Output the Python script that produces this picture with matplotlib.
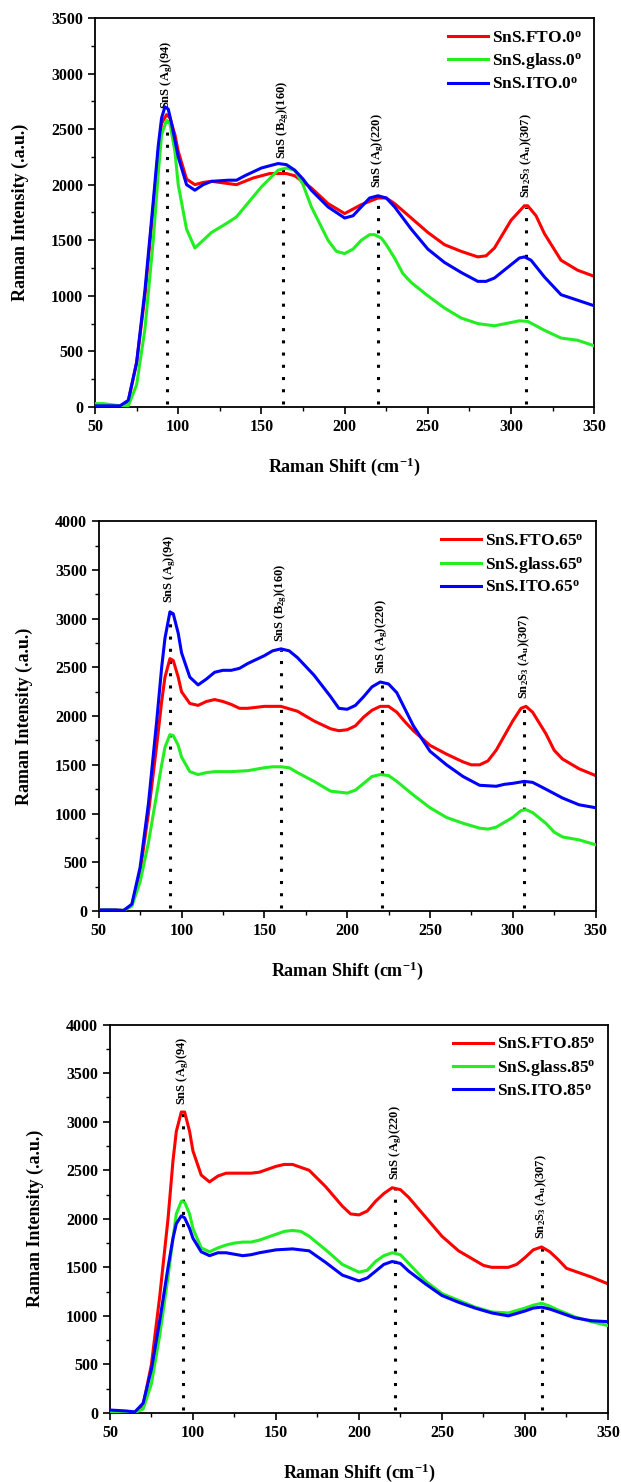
import matplotlib
matplotlib.use("Agg")
import matplotlib.pyplot as plt
from matplotlib.ticker import MultipleLocator

plt.rcParams['font.family'] = 'Liberation Serif'
plt.rcParams['font.weight'] = 'bold'
plt.rcParams['mathtext.fontset'] = 'custom'
plt.rcParams['mathtext.rm'] = 'Liberation Serif:bold'
plt.rcParams['mathtext.it'] = 'Liberation Serif:bold'
plt.rcParams['mathtext.bf'] = 'Liberation Serif:bold'

# ---- 0 degree ----
fto_0_x = [50, 60, 65, 70, 75, 80, 85, 88, 90, 93, 95, 98, 100, 105, 110, 115, 120, 125, 135, 145,
           155, 160, 165, 170, 180, 190, 200, 210, 220, 225, 230, 240, 250, 260, 270, 280, 285, 290,
           300, 308, 310, 315, 320, 330, 340, 350]
fto_0_y = [10, 10, 5, 50, 400, 1000, 1800, 2300, 2550, 2630, 2600, 2450, 2300, 2050, 2000, 2020, 2030,
           2020, 2000, 2060, 2100, 2100, 2100, 2080, 1970, 1830, 1740, 1820, 1880, 1880, 1830, 1700,
           1570, 1460, 1400, 1350, 1360, 1430, 1680, 1810, 1810, 1720, 1560, 1320, 1230, 1175]
glass_0_x = [50, 55, 60, 65, 70, 75, 80, 85, 88, 90, 93, 95, 98, 100, 105, 110, 115, 120, 130, 135,
             140, 150, 160, 165, 170, 175, 180, 190, 195, 200, 205, 210, 215, 218, 222, 225, 230, 235,
             240, 250, 260, 270, 280, 290, 300, 305, 310, 320, 330, 340, 350]
glass_0_y = [30, 30, 20, 10, 10, 200, 700, 1500, 2100, 2450, 2580, 2550, 2300, 2000, 1600, 1430, 1500,
             1570, 1660, 1710, 1800, 1980, 2130, 2150, 2130, 2000, 1800, 1500, 1400, 1380, 1420, 1500,
             1550, 1550, 1520, 1460, 1340, 1200, 1120, 1000, 890, 800, 750, 730, 760, 775, 770, 690,
             620, 600, 550]
ito_0_x = [50, 60, 65, 70, 75, 80, 85, 88, 90, 92, 94, 96, 100, 105, 110, 115, 120, 130, 135, 140,
           150, 160, 165, 170, 175, 180, 190, 200, 205, 210, 215, 220, 225, 230, 240, 250, 260, 270,
           280, 285, 290, 300, 305, 308, 312, 320, 330, 340, 350]
ito_0_y = [10, 10, 10, 60, 400, 1050, 1850, 2350, 2600, 2700, 2680, 2550, 2250, 2000, 1950, 2000, 2030,
           2040, 2040, 2080, 2150, 2190, 2180, 2130, 2050, 1950, 1800, 1700, 1720, 1800, 1880, 1900,
           1880, 1800, 1600, 1420, 1300, 1210, 1130, 1130, 1160, 1280, 1340, 1350, 1320, 1170, 1010,
           960, 910]

# ---- 65 degree ----
fto_65_x = [50, 60, 65, 70, 75, 80, 85, 88, 90, 93, 95, 98, 100, 105, 110, 115, 120, 125, 130, 135,
            140, 150, 160, 170, 180, 190, 195, 200, 205, 210, 215, 220, 225, 230, 235, 240, 250, 260,
            270, 275, 280, 285, 290, 300, 305, 308, 312, 320, 325, 330, 340, 350]
fto_65_y = [10, 10, 5, 60, 400, 1000, 1700, 2150, 2400, 2590, 2570, 2400, 2250, 2130, 2110, 2150, 2170,
            2150, 2120, 2080, 2080, 2100, 2100, 2050, 1950, 1870, 1850, 1860, 1900, 1990, 2060, 2100,
            2100, 2040, 1940, 1850, 1700, 1610, 1530, 1500, 1500, 1540, 1650, 1950, 2080, 2100, 2040,
            1820, 1650, 1560, 1460, 1390]
glass_65_x = [50, 60, 65, 70, 75, 80, 85, 88, 90, 93, 95, 98, 100, 105, 110, 115, 120, 130, 140, 150,
              155, 160, 165, 170, 180, 190, 200, 205, 210, 215, 220, 225, 230, 240, 250, 260, 270, 280,
              285, 290, 300, 305, 308, 312, 320, 325, 330, 340, 350]
glass_65_y = [10, 10, 5, 50, 300, 700, 1200, 1500, 1680, 1810, 1800, 1700, 1580, 1430, 1400, 1420, 1430,
              1430, 1440, 1470, 1480, 1480, 1470, 1420, 1330, 1230, 1210, 1240, 1310, 1380, 1400, 1390,
              1330, 1190, 1060, 960, 900, 850, 840, 860, 960, 1030, 1040, 1010, 900, 810, 760, 730, 680]
ito_65_x = [50, 60, 65, 70, 75, 80, 85, 88, 90, 93, 95, 98, 100, 105, 110, 115, 120, 125, 130, 135,
            140, 150, 155, 160, 165, 170, 180, 190, 195, 200, 205, 210, 215, 220, 225, 230, 240, 250,
            260, 270, 280, 290, 295, 300, 307, 312, 320, 330, 340, 350]
ito_65_y = [10, 10, 5, 70, 450, 1100, 1950, 2500, 2800, 3070, 3050, 2850, 2650, 2400, 2320, 2380, 2450,
            2470, 2470, 2490, 2540, 2620, 2670, 2690, 2670, 2600, 2420, 2200, 2080, 2070, 2110, 2200,
            2300, 2350, 2330, 2240, 1900, 1640, 1500, 1380, 1290, 1280, 1300, 1310, 1330, 1320, 1250,
            1160, 1090, 1060]

# ---- 85 degree ----
fto_85_x = [50, 60, 65, 70, 75, 80, 85, 88, 90, 93, 95, 98, 100, 105, 110, 115, 120, 130, 135, 140,
            150, 155, 160, 165, 170, 180, 190, 195, 200, 205, 210, 215, 220, 225, 230, 240, 250, 260,
            270, 275, 280, 290, 295, 300, 305, 310, 315, 320, 325, 330, 340, 350]
fto_85_y = [20, 10, 5, 80, 500, 1200, 2000, 2600, 2900, 3100, 3100, 2900, 2700, 2450, 2380, 2440, 2470,
            2470, 2470, 2480, 2540, 2560, 2560, 2530, 2500, 2330, 2130, 2050, 2040, 2080, 2180, 2260,
            2320, 2300, 2220, 2020, 1820, 1670, 1570, 1520, 1500, 1500, 1530, 1600, 1680, 1710, 1660,
            1580, 1490, 1460, 1400, 1330]
glass_85_x = [50, 60, 65, 70, 75, 80, 85, 88, 90, 93, 95, 98, 100, 105, 110, 115, 120, 125, 130, 135,
              140, 150, 155, 160, 165, 170, 180, 190, 200, 205, 210, 215, 220, 225, 230, 240, 250, 260,
              270, 280, 290, 300, 305, 310, 315, 320, 330, 340, 350]
glass_85_y = [10, 5, 5, 40, 300, 800, 1400, 1800, 2050, 2180, 2170, 2050, 1900, 1700, 1660, 1700, 1730,
              1750, 1760, 1760, 1780, 1840, 1870, 1880, 1870, 1820, 1680, 1530, 1450, 1470, 1560, 1620,
              1650, 1630, 1540, 1360, 1230, 1160, 1090, 1040, 1030, 1080, 1110, 1130, 1100, 1060, 990,
              940, 900]
ito_85_x = [50, 55, 60, 65, 70, 75, 80, 85, 88, 90, 93, 95, 98, 100, 105, 110, 115, 120, 130, 135,
            140, 150, 160, 170, 180, 190, 200, 205, 210, 215, 220, 225, 230, 240, 250, 260, 270, 280,
            290, 300, 305, 310, 315, 320, 330, 340, 350]
ito_85_y = [30, 25, 20, 10, 100, 450, 950, 1500, 1800, 1950, 2030, 2010, 1900, 1800, 1660, 1620, 1650,
            1650, 1620, 1630, 1650, 1680, 1690, 1670, 1550, 1420, 1360, 1390, 1460, 1530, 1560, 1540,
            1460, 1330, 1210, 1140, 1080, 1030, 1000, 1050, 1080, 1090, 1070, 1040, 980, 950, 940]

# peak markers
lab_94 = r'SnS ($\mathrm{A_g}$)(94)'
lab_160 = r'SnS ($\mathrm{B_{2g}}$)(160)'
lab_220 = r'SnS ($\mathrm{A_g}$)(220)'
lab_307 = r'$\mathrm{Sn_2S_3}$ ($\mathrm{A_u}$)(307)'
peaks_0 = [93, 163, 220, 309]
tops_0 = [2600, 2150, 1890, 1800]
labels_0 = [lab_94, lab_160, lab_220, lab_307]
peaks_65 = [93, 160, 221, 307]
tops_65 = [3080, 2680, 2350, 2100]
labels_65 = [lab_94, lab_160, lab_220, lab_307]
peaks_85 = [94, 222, 310]
tops_85 = [3090, 2320, 1710]
labels_85 = [lab_94, lab_220, lab_307]

angles = ['0', '65', '85']
ymax = [3500, 4000, 4000]

RED, GREEN, BLUE = '#ff0000', '#22ee22', '#0000ff'

fig = plt.figure(figsize=(6.21, 14.82), dpi=100)
rects = [[0.153, 0.7254, 0.804, 0.2625],
         [0.159, 0.3853, 0.800, 0.263],
         [0.177, 0.0466, 0.802, 0.262]]

panels = [
    ((fto_0_x, fto_0_y), (glass_0_x, glass_0_y), (ito_0_x, ito_0_y), peaks_0, tops_0, labels_0),
    ((fto_65_x, fto_65_y), (glass_65_x, glass_65_y), (ito_65_x, ito_65_y), peaks_65, tops_65, labels_65),
    ((fto_85_x, fto_85_y), (glass_85_x, glass_85_y), (ito_85_x, ito_85_y), peaks_85, tops_85, labels_85),
]

for i, (fto, glass, ito, peaks, tops, labs) in enumerate(panels):
    ax = fig.add_axes(rects[i])
    ang = angles[i]
    ax.vlines(peaks, 30, tops, colors='k', linestyles=(0, (1, 3)), linewidth=2.2, zorder=1)
    for px, top, lab in zip(peaks, tops, labs):
        ax.text(px, top + 80, lab, rotation=90, ha='center', va='bottom', fontsize=9)
    ax.plot(*fto, color=RED, lw=2.2, label=r'SnS.FTO.$\mathrm{' + ang + '^o}$', zorder=2)
    ax.plot(*glass, color=GREEN, lw=2.2, label=r'SnS.glass.$\mathrm{' + ang + '^o}$', zorder=3)
    ax.plot(*ito, color=BLUE, lw=2.2, label=r'SnS.ITO.$\mathrm{' + ang + '^o}$', zorder=4)
    ax.set_xlim(50, 350)
    ax.set_ylim(0, ymax[i])
    ax.xaxis.set_major_locator(MultipleLocator(50))
    ax.xaxis.set_minor_locator(MultipleLocator(25))
    ax.yaxis.set_major_locator(MultipleLocator(500))
    ax.yaxis.set_minor_locator(MultipleLocator(250))
    ax.tick_params(which='major', direction='out', length=5, width=1.2, labelsize=11.5)
    ax.tick_params(which='minor', direction='out', length=3, width=1.0)
    for sp in ax.spines.values():
        sp.set_linewidth(1.3)
    ax.set_xlabel(r'Raman Shift ($\mathrm{cm^{-1}}$)', fontsize=13, fontweight='bold', labelpad=15)
    ax.set_ylabel('Raman Intensity (.a.u.)', fontsize=13, fontweight='bold', labelpad=16)
    ax.legend(loc='upper right', frameon=False, fontsize=12.5, handlelength=2.3,
              handletextpad=0.25, labelspacing=0.3, borderaxespad=0.3)

fig.savefig('out.png', dpi=100)
